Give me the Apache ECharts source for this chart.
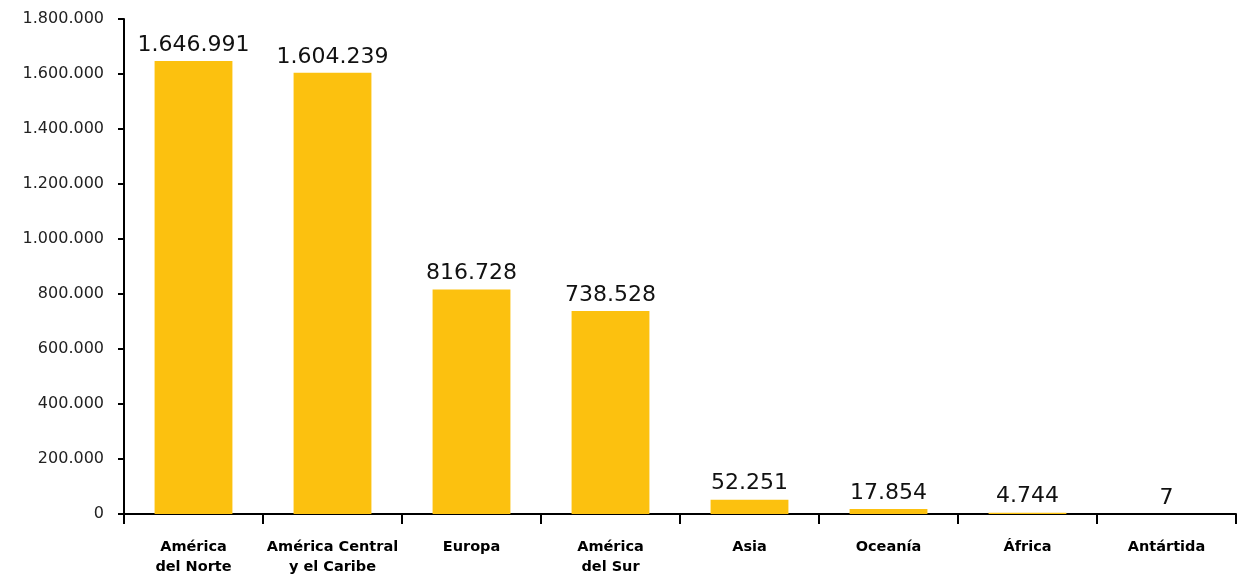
<!DOCTYPE html>
<html><head><meta charset="utf-8">
<script src="https://cdn.jsdelivr.net/npm/echarts@6/dist/echarts.min.js"></script>
<style>html,body{margin:0;padding:0;background:#fff}#c{width:1243px;height:575px}</style>
</head><body><div id="c"></div>
<script>
const categories = ['América\ndel Norte','América Central\ny el Caribe','Europa','América\ndel Sur','Asia','Oceanía','África','Antártida'];
const values = [1646991, 1604239, 816728, 738528, 52251, 17854, 4744, 7];
const fmt = v => String(v).replace(/\B(?=(\d{3})+(?!\d))/g, '.');
const chart = echarts.init(document.getElementById('c'));
chart.setOption({
  animation: false,
  grid: {left: 124, right: 7, top: 19, bottom: 61, containLabel: false, outerBoundsMode: 'none'},
  xAxis: {
    type: 'category', data: categories,
    axisLine: {lineStyle: {color: '#000', width: 2}},
    axisTick: {show: true, length: 10, lineStyle: {color: '#000', width: 2}},
    axisLabel: {interval: 0, hideOverlap: false, color: '#000', fontFamily: 'DejaVu Sans', fontWeight: 'bold', fontSize: 14.5, lineHeight: 20, margin: 23}
  },
  yAxis: {
    type: 'value', min: 0, max: 1800000, interval: 200000,
    axisLine: {show: true, lineStyle: {color: '#000', width: 2}},
    axisTick: {show: true, length: 6, lineStyle: {color: '#000', width: 2}},
    splitLine: {show: false},
    axisLabel: {color: '#222', fontFamily: 'DejaVu Sans', fontSize: 16, margin: 20, formatter: v => fmt(v)}
  },
  series: [{
    type: 'bar', data: values, barWidth: '56%',
    itemStyle: {color: '#FCC10F'},
    label: {show: true, position: 'top', distance: 5, color: '#111', fontFamily: 'DejaVu Sans', fontSize: 22, formatter: p => fmt(p.value)}
  }]
});
</script></body></html>
